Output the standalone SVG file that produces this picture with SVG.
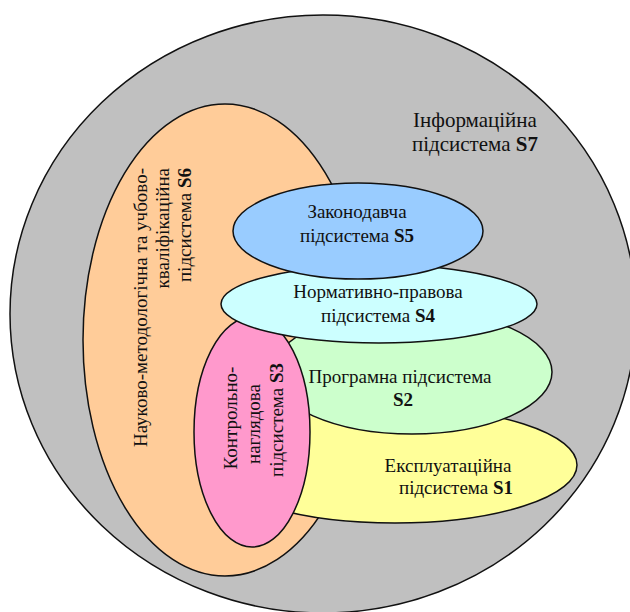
<svg xmlns="http://www.w3.org/2000/svg" width="630" height="612" viewBox="0 0 630 612">
<style>
.sh{stroke:#111;stroke-width:1.5}
text{font-family:"Liberation Serif","Times New Roman",serif;font-size:19px;fill:#111}
.c{text-anchor:middle}
.b{font-weight:bold}
.big{font-size:21px}
</style>
<rect width="630" height="612" fill="#ffffff"/>
<g id="s7">
<ellipse class="sh" cx="323" cy="314" rx="313" ry="299" fill="#C0C0C0"/>
<text class="c big" x="475" y="127">Інформаційна</text>
<text class="c big" x="475" y="151">підсистема <tspan class="b">S7</tspan></text>
</g>
<g id="s6">
<ellipse class="sh" cx="225" cy="340" rx="142" ry="236" fill="#FFCC99"/>
<g transform="rotate(-90)" text-anchor="end">
<text x="-168" y="147">Науково-методологічна та учбово-</text>
<text x="-168" y="169">кваліфікаційна</text>
<text x="-168" y="191">підсистема <tspan class="b">S6</tspan></text>
</g>
</g>
<g id="s1">
<ellipse class="sh" cx="395" cy="465" rx="182" ry="58" fill="#FFFF99"/>
<text class="c" x="448" y="472">Експлуатаційна</text>
<text class="c" x="456" y="494">підсистема <tspan class="b">S1</tspan></text>
</g>
<g id="s2">
<ellipse class="sh" cx="412" cy="372" rx="140" ry="62" fill="#CCFFCC"/>
<text class="c" x="400" y="383">Програмна підсистема</text>
<text class="c b" x="403" y="406">S2</text>
</g>
<g id="s3">
<ellipse class="sh" cx="252" cy="432" rx="58" ry="115" fill="#FF99CC"/>
<g transform="rotate(-90)" text-anchor="middle">
<text x="-418" y="237">Контрольно-</text>
<text x="-424" y="260">наглядова</text>
<text x="-420" y="283">підсистема <tspan class="b">S3</tspan></text>
</g>
</g>
<g id="s4">
<ellipse class="sh" cx="379" cy="304" rx="158" ry="39" fill="#CCFFFF"/>
<text class="c" x="378" y="298">Нормативно-правова</text>
<text class="c" x="378" y="322">підсистема <tspan class="b">S4</tspan></text>
</g>
<g id="s5">
<ellipse class="sh" cx="358" cy="231" rx="125" ry="48" fill="#99CCFF"/>
<text class="c" x="357" y="218">Законодавча</text>
<text class="c" x="357" y="242">підсистема <tspan class="b">S5</tspan></text>
</g>
</svg>
